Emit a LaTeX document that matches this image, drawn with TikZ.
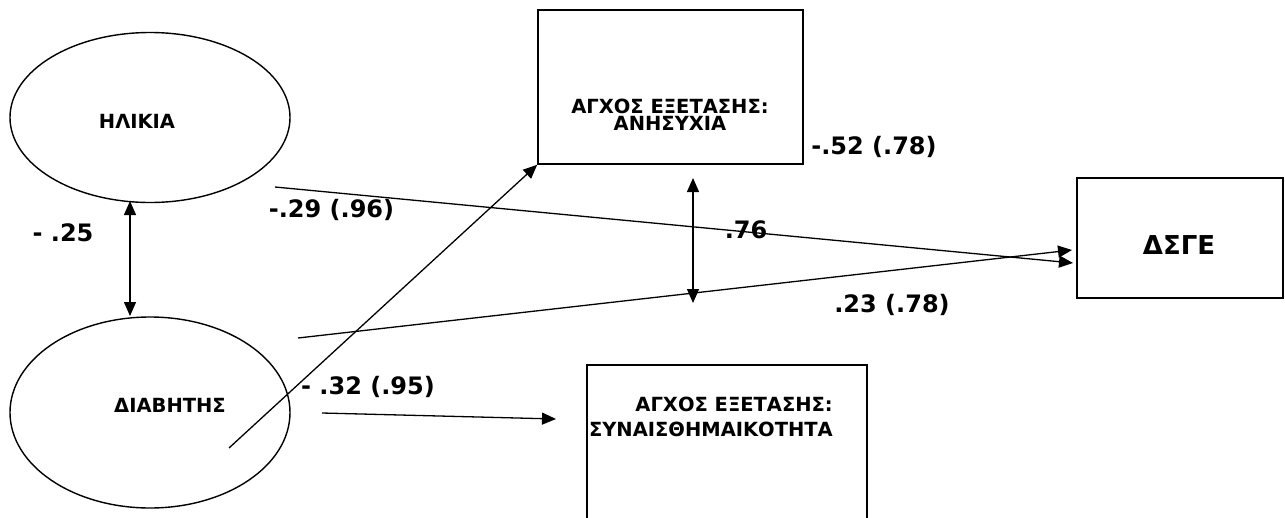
\documentclass[tikz,border=0pt]{standalone}
\usepackage{fontspec}
\setmainfont{DejaVu Sans}
\usetikzlibrary{arrows.meta,shapes.geometric}

\begin{document}
\begin{tikzpicture}[x=1pt,y=-1pt,
    oval/.style={draw,ellipse,line width=1.4pt,inner sep=0pt},
    box/.style={draw,rectangle,line width=1.6pt,inner sep=0pt},
    varname/.style={font=\fontsize{19.5}{17}\selectfont\bfseries,inner sep=0pt},
    coef/.style={font=\fontsize{24}{28}\selectfont\bfseries,inner sep=0pt},
    arr/.style={line width=1.3pt,-{Triangle[length=14pt,width=12pt]}},
    darr/.style={line width=1.3pt,{Triangle[length=14pt,width=12pt]}-{Triangle[length=14pt,width=12pt]}}]
      \clip (0,0) rectangle (1285,517);
      \node[oval,minimum width=280pt,minimum height=170pt] (age) at (150,117.5) {};
      \node[oval,minimum width=280pt,minimum height=191pt] (diab) at (150,412.5) {};
      \node[box,minimum width=265pt,minimum height=154pt] (anx) at (670.5,87) {};
      \node[box,minimum width=206pt,minimum height=120pt] (dsge) at (1180,238) {};
      \node[box,minimum width=280pt,minimum height=180pt] (emo) at (727,455) {};
      \node[varname] (agetxt) at (137,121) {ΗΛΙΚΙΑ};
      \node[varname] (diabtxt) at (170,405) {ΔΙΑΒΗΤΗΣ};
      \node[varname,align=center] (anxtxt) at (670,114.5) {ΑΓΧΟΣ ΕΞΕΤΑΣΗΣ:\\ΑΝΗΣΥΧΙΑ};
      \node[varname,align=right,anchor=east,font=\fontsize{19.5}{25}\selectfont\bfseries] (emotxt) at (833,417) {ΑΓΧΟΣ ΕΞΕΤΑΣΗΣ:\\ΣΥΝΑΙΣΘΗΜΑΙΚΟΤΗΤΑ};
      \node[varname,font=\fontsize{26}{30}\selectfont\bfseries] (dsgetxt) at (1179,245) {ΔΣΓΕ};
      \coordinate (c1) at (130,201);
      \coordinate (c2) at (130,316);
      \coordinate (c3) at (693,178);
      \coordinate (c4) at (693,303);
      \coordinate (c5) at (229,448);
      \coordinate (c6) at (275,187);
      \coordinate (c7) at (1073,263);
      \coordinate (c8) at (298,338);
      \coordinate (c9) at (1072,250);
      \coordinate (c10) at (322,413);
      \coordinate (c11) at (556,419);
      \draw[darr] (c1) -- (c2);
      \draw[darr] (c3) -- (c4);
      \draw[arr] (c5) -- (anx.south west);
      \draw[arr] (c6) -- (c7);
      \draw[arr] (c8) -- (c9);
      \draw[arr] (c10) -- (c11);
      \node[coef] (r1) at (63,232.5) {- .25};
      \node[coef] (r2) at (331.5,210) {-.29 (.96)};
      \node[coef] (r3) at (874,147) {-.52 (.78)};
      \node[coef] (r4) at (746,230) {.76};
      \node[coef] (r5) at (892,305) {.23 (.78)};
      \node[coef] (r6) at (368,386.5) {- .32 (.95)};
    \end{tikzpicture}
\end{document}
